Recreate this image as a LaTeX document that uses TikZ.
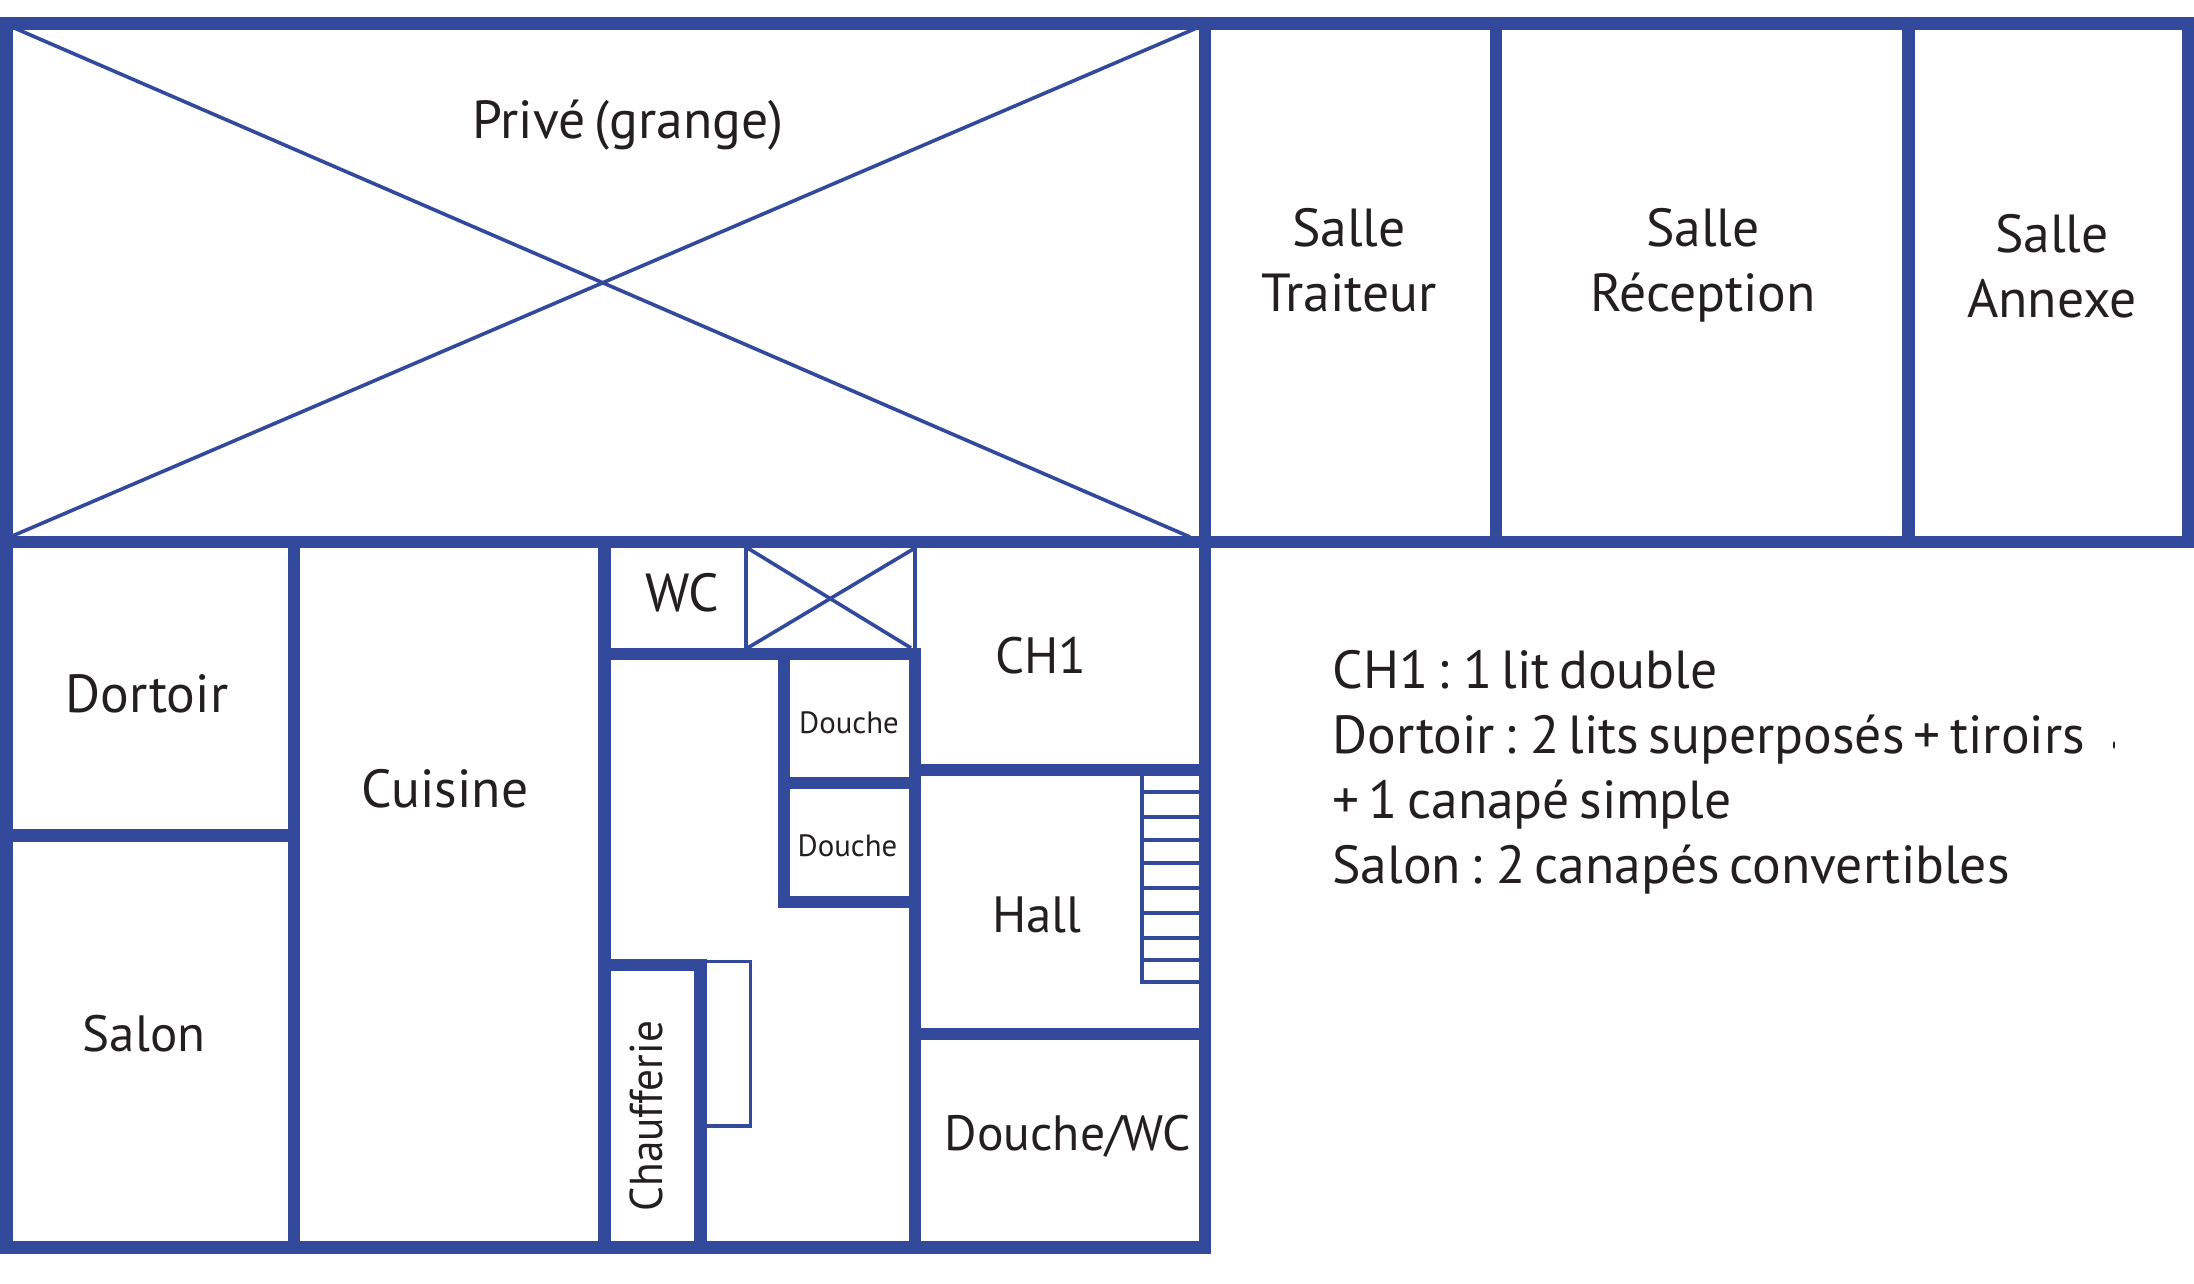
\documentclass[tikz,border=0pt]{standalone}
\usepackage{fontspec}
\setmainfont[WordSpace = 0.65]{PT Sans}
\usetikzlibrary{positioning}
\definecolor{wallblue}{HTML}{32499C}
\definecolor{textblack}{HTML}{231F20}
\tikzstyle{plan picture} = [x = 0.5pt, y = -0.5pt]
\tikzstyle{wall} = [draw = wallblue, line width = 6.25pt, line cap = rect]
\tikzstyle{thin wall} = [draw = wallblue, line width = 1.8pt]
\tikzstyle{room} = [text = textblack, inner sep = 0, anchor = base, font = \fontsize{26.8}{32.5}\selectfont]
\tikzstyle{short room} = [room, font = \fontsize{25.5}{32.5}\selectfont]
\tikzstyle{mid room} = [room, font = \fontsize{24.8}{30}\selectfont]
\tikzstyle{boiler room} = [room, font = \fontsize{23}{30}\selectfont\addfontfeature{FakeStretch = 0.94}]
\tikzstyle{small room} = [room, font = \fontsize{15.4}{18}\selectfont]
\tikzstyle{note} = [room, anchor = base west]
\begin{document}
\begin{tikzpicture}[plan picture]
    \useasboundingbox (0, 0) rectangle (2194, 1284);
    \fill [white] (0, 0) rectangle (2194, 1284);
    \draw [thin wall] (12, 27) -- (1190, 537);
    \draw [thin wall] (1199, 27) -- (10, 537);
    \draw [thin wall] (746, 542) -- (746, 654);
    \draw [thin wall] (915, 542) -- (915, 654);
    \draw [thin wall] (747.5, 548) -- (911, 648);
    \draw [thin wall] (915, 548) -- (747.5, 648);
    \draw [thin wall] (700.6, 961.6) -| (750.6, 1126) -- (700.6, 1126);
    \draw [thin wall] (1142, 769) -- (1142, 982) -- (1200, 982);
    \foreach \y in {792, 817, 840, 863, 888, 913, 938, 960}
    {
        \draw [thin wall] (1142, \y) -- (1200, \y);
    }
    \draw [wall] (6.7, 23.3) -- (2188, 23.3);
    \draw [wall] (6.7, 542) -- (2188, 542);
    \draw [wall] (6.7, 1247.5) -- (1205, 1247.5);
    \draw [wall] (6.7, 23.3) -- (6.7, 1247.5);
    \foreach \x in {1205, 1496, 1908.5, 2188}
    {
        \draw [wall] (\x, 23.3) -- (\x, 542);
    }
    \draw [wall] (1205, 542) -- (1205, 1247.5);
    \draw [wall] (294, 542) -- (294, 1247.5);
    \draw [wall] (604.6, 542) -- (604.6, 1247.5);
    \draw [wall] (6.7, 835.5) -- (294, 835.5);
    \draw [wall] (604.6, 654) -- (915, 654);
    \draw [wall] (784, 654) -- (784, 902);
    \draw [wall] (784, 783) -- (915, 783);
    \draw [wall] (784, 902) -- (915, 902);
    \draw [wall] (915, 654) -- (915, 1247.5);
    \draw [wall] (915, 770) -- (1205, 770);
    \draw [wall] (915, 1034) -- (1205, 1034);
    \draw [wall] (604.6, 965) -- (700.6, 965);
    \draw [wall] (700.6, 965) -- (700.6, 1247.5);
    \fill [textblack] (2114, 745) ellipse (1 and 4);
    \node [room] (prive) at (628, 139) {Privé (grange)};
    \node [room] (salle traiteur) at (1349, 246) {Salle};
    \node [room] (traiteur) at (1349, 311) {Traiteur};
    \node [room] (salle reception) at (1703, 246) {Salle};
    \node [room] (reception) at (1703, 311) {Réception};
    \node [room] (salle annexe) at (2052, 252) {Salle};
    \node [room] (annexe) at (2052, 317) {Annexe};
    \node [room] (dortoir) at (147, 712) {Dortoir};
    \node [short room] (salon) at (144, 1051) {Salon};
    \node [room] (cuisine) at (445, 807) {Cuisine};
    \node [room] (wc) at (682, 611) {WC};
    \node [short room] (ch1) at (1041, 673.5) {CH1};
    \node [small room] (douche a) at (849, 733.5) {Douche};
    \node [small room] (douche b) at (847.5, 856.5) {Douche};
    \node [short room] (hall) at (1037, 932) {Hall};
    \node [mid room] (douche wc) at (1068, 1150) {Douche/WC};
    \node [boiler room, rotate = 90] (chaufferie) at (662, 1116) {Chaufferie};
    \node [note] (note a) at (1332, 688) {CH1 : 1 lit double};
    \node [note] (note b) at (1332, 753) {Dortoir : 2 lits superposés + tiroirs};
    \node [note] (note c) at (1332, 818) {+ 1 canapé simple};
    \node [note] (note d) at (1332, 883) {Salon : 2 canapés convertibles};
\end{tikzpicture}
\end{document}
